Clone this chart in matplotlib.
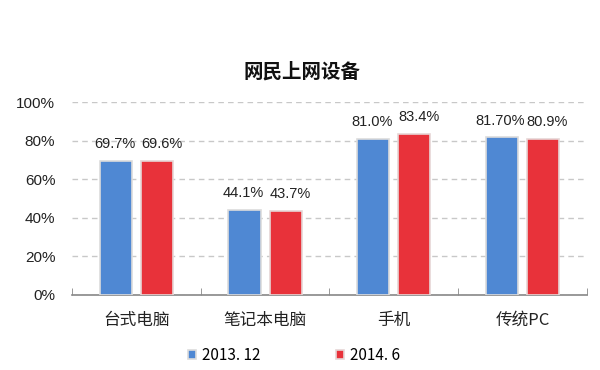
import matplotlib
matplotlib.use("Agg")
import matplotlib.pyplot as plt
import numpy as np

plt.rcParams['font.family'] = ['Noto Sans CJK SC', 'DejaVu Sans']

categories = ['台式电脑', '笔记本电脑', '手机', '传统PC']
series_names = ['2013. 12', '2014. 6']
v2013 = [69.7, 44.1, 81.0, 81.7]
v2014 = [69.6, 43.7, 83.4, 80.9]
lab2013 = ['69.7%', '44.1%', '81.0%', '81.70%']
lab2014 = ['69.6%', '43.7%', '83.4%', '80.9%']
yticks = [0, 20, 40, 60, 80, 100]

blue = '#4f88d3'
red = '#e8323a'
num_font = ['Liberation Sans', 'DejaVu Sans']

fig = plt.figure(figsize=(6, 3.7), dpi=100)
fig.patch.set_facecolor('white')

ax = fig.add_axes([0.12, 0.203, 0.858, 0.521])

x = np.arange(len(categories))
w = 0.25
b1 = ax.bar(x - 0.16, v2013, w, color=blue, edgecolor='#dcdcdc', linewidth=1.2,
            label=series_names[0], zorder=3)
b2 = ax.bar(x + 0.16, v2014, w, color=red, edgecolor='#e6d6d6', linewidth=1.2,
            label=series_names[1], zorder=3)

for rect, t in zip(b1, lab2013):
    ax.text(rect.get_x() + rect.get_width() / 2 - 0.01, rect.get_height() + 5, t,
            ha='center', va='bottom', fontsize=10.5, color='#222222', family=num_font)
for rect, t in zip(b2, lab2014):
    ax.text(rect.get_x() + rect.get_width() / 2 + 0.035, rect.get_height() + 5, t,
            ha='center', va='bottom', fontsize=10.5, color='#222222', family=num_font)

ax.set_xlim(-0.5, len(categories) - 0.5)
ax.set_ylim(0, 100)
ax.set_yticks(yticks)
ax.set_yticklabels([f'{v}%' for v in yticks], fontsize=11, color='#222222',
                   family=num_font)
ax.tick_params(axis='y', length=0, pad=12)
ax.yaxis.grid(True, linestyle=(0, (4, 3)), color='#c8c8c8', linewidth=1, zorder=0)

ax.set_xticks(x)
ax.set_xticklabels(categories, fontsize=12, color='#222222')
ax.tick_params(axis='x', length=0, pad=12)
ax.set_xticks(np.arange(-0.5, len(categories), 1), minor=True)
ax.tick_params(axis='x', which='minor', length=5, color='#888888', direction='in')

for s in ['left', 'right', 'top']:
    ax.spines[s].set_visible(False)
ax.spines['bottom'].set_color('#888888')
ax.spines['bottom'].set_linewidth(1.2)

fig.text(0.503, 0.805, '网民上网设备', ha='center', va='center', fontsize=14,
         fontweight='bold', color='#111111')

fig.legend(handles=[b1, b2], labels=series_names, loc='center', ncol=2,
           bbox_to_anchor=(0.49, 0.04), frameon=False, fontsize=11,
           handlelength=0.5, handleheight=0.5, columnspacing=5, handletextpad=0.4)

fig.savefig('out.png', dpi=100, facecolor='white')
